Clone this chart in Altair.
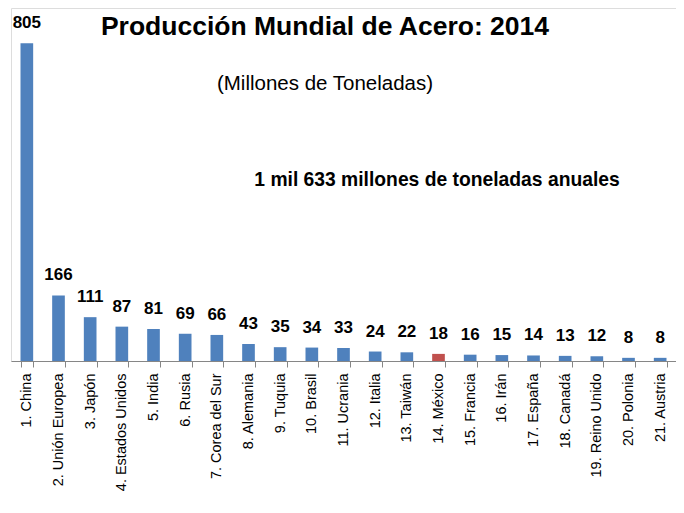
import altair as alt
import pandas as pd

paises = ["1. China", "2. Unión Europea", "3. Japón", "4. Estados Unidos", "5. India",
          "6. Rusia", "7. Corea del Sur", "8. Alemania", "9. Tuquia", "10. Brasil",
          "11. Ucrania", "12. Italia", "13. Taiwán", "14. México", "15. Francia",
          "16. Irán", "17. España", "18. Canadá", "19. Reino Unido", "20. Polonia",
          "21. Austria"]
produccion = [805, 166, 111, 87, 81, 69, 66, 43, 35, 34, 33, 24, 22, 18, 16, 15, 14, 13, 12, 8, 8]
destacado = ["14. México"]

titulo = ["Producción Mundial de Acero: 2014"]
subtitulo = ["(Millones de Toneladas)"]
nota = ["1 mil 633 millones de toneladas anuales"]

FONT = "Arial, Liberation Sans, sans-serif"

df = pd.DataFrame({
    "pais": paises,
    "valor": produccion,
    "grupo": ["Mexico" if p in destacado else "Otro" for p in paises],
})

x = alt.X("pais:N", sort=None, title=None,
          scale=alt.Scale(paddingInner=0.6, paddingOuter=0.3),
          axis=alt.Axis(labelAngle=-90, labelFont=FONT, labelFontSize=14.5,
                        labelColor="#000000", labelPadding=6, tickBand="extent",
                        tickSize=6, tickColor="#868686", domainColor="#868686",
                        domainWidth=1, tickWidth=1, labelLimit=300))
y = alt.Y("valor:Q", title=None, axis=None,
          scale=alt.Scale(domain=[0, 894], nice=False, zero=True))

bars = alt.Chart(df).mark_bar().encode(
    x=x, y=y,
    color=alt.Color("grupo:N", legend=None,
                    scale=alt.Scale(domain=["Otro", "Mexico"], range=["#4F81BD", "#C0504D"])),
)

labels = alt.Chart(df).mark_text(font=FONT, fontSize=17, fontWeight="bold",
                                 baseline="alphabetic", dy=-15, color="#000000").encode(
    x=x, y=y, text=alt.Text("valor:Q"))

t1 = alt.Chart(pd.DataFrame({"t": titulo})).mark_text(
    font=FONT, fontSize=26.5, fontWeight="bold", align="center", baseline="alphabetic",
    color="#000000").encode(text="t:N", x=alt.value(314), y=alt.value(27))
t2 = alt.Chart(pd.DataFrame({"t": subtitulo})).mark_text(
    font=FONT, fontSize=20.5, align="center", baseline="alphabetic",
    color="#000000").encode(text="t:N", x=alt.value(314), y=alt.value(82))
t3 = alt.Chart(pd.DataFrame({"t": nota})).mark_text(
    font=FONT, fontSize=19.3, fontWeight="bold", align="center", baseline="alphabetic",
    color="#000000").encode(text="t:N", x=alt.value(426), y=alt.value(178))

chart = alt.layer(bars, labels, t1, t2, t3).properties(
    width=665, height=353,
    autosize=alt.AutoSizeParams(type="none"),
    padding={"left": 3, "top": 0, "right": 0, "bottom": 140},
).configure_view(stroke=None).configure(background="#ffffff")

chart.save("out.html", embed_options={"renderer": "svg", "actions": False})
